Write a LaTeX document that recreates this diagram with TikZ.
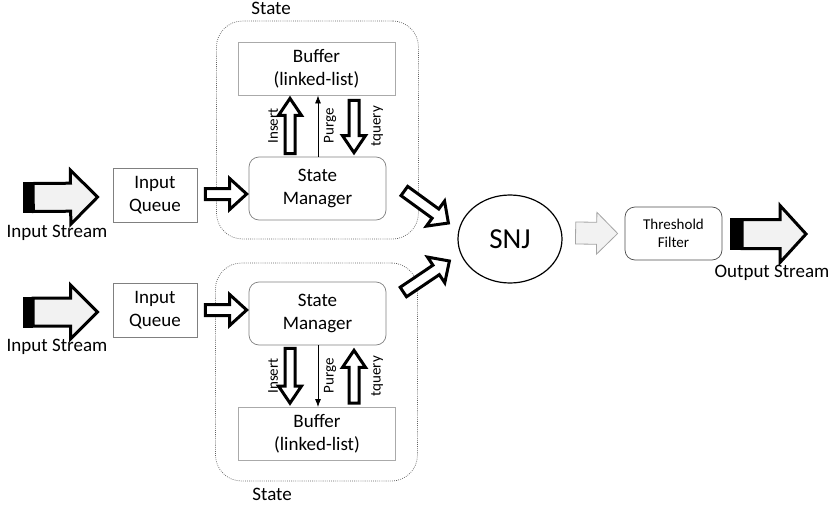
\documentclass[tikz,border=0pt]{standalone}
\usepackage{fontspec}
\setmainfont{Carlito}
\usepackage{tikz}
\usetikzlibrary{arrows.meta,calc,shapes.geometric}
\definecolor{framegray}{RGB}{128,128,128}
\definecolor{lightframe}{RGB}{170,170,170}
\definecolor{dotgray}{RGB}{95,95,95}
\definecolor{streamfill}{RGB}{242,242,242}
\definecolor{ghostline}{RGB}{165,165,165}
\newcommand{\bigtxt}{\fontsize{19}{23}\selectfont}
\newcommand{\smalltxt}{\fontsize{15}{18}\selectfont}
\newcommand{\snjtxt}{\fontsize{29}{34}\selectfont}
% block arrow: [style]{from}{to}{half shaft}{half head}{head length}
\newcommand{\blockarrow}[6][]{%
  \coordinate (ba-base) at ($(#3)!#6!(#2)$);
  \draw[#1] ($(#2)!#4!90:(#3)$) -- ($(ba-base)!#4!90:(#3)$) -- ($(ba-base)!#5!90:(#3)$) -- (#3)
    -- ($(ba-base)!#5!-90:(#3)$) -- ($(ba-base)!#4!-90:(#3)$) -- ($(#2)!#4!-90:(#3)$) -- cycle;}

\begin{document}
\begin{tikzpicture}[x=1pt, y=-1pt,
    every node/.style={font=\bigtxt, inner sep=0pt},
    qbox/.style={rectangle, draw=framegray, line width=0.8pt, minimum width=84pt,
        minimum height=54pt, align=center},
    mgr/.style={rectangle, rounded corners=10pt, draw=framegray, line width=0.7pt,
        minimum width=137pt, minimum height=63pt, align=center},
    buf/.style={rectangle, draw=lightframe, line width=0.8pt, minimum width=157pt,
        minimum height=53pt, align=center},
    state/.style={rectangle, rounded corners=26pt, draw=dotgray, line width=0.7pt,
        dash pattern=on 0.8pt off 1.3pt, minimum width=202pt, minimum height=218pt},
    snjnode/.style={ellipse, draw, line width=1.2pt, minimum width=104pt, minimum height=88pt,
        font=\snjtxt},
    filt/.style={rectangle, rounded corners=10pt, draw=black!70, line width=0.7pt,
        minimum width=97pt, minimum height=53pt, align=center, font=\smalltxt},
    vlbl/.style={rotate=90, font=\smalltxt},
    blk/.style={rectangle, fill=black, minimum width=10pt, minimum height=31pt},
    hollow/.style={draw, fill=white, line width=3pt},
    streamarr/.style={draw, fill=streamfill, line width=3pt},
    ghost/.style={draw=ghostline, fill=streamfill, line width=0.8pt},
    purge/.style={-{Latex[length=8pt,width=6pt]}, line width=0.8pt}
]
\useasboundingbox (0,0) rectangle (836,506);

\node[state] (st1) at (317.5,130) {};
\node[state] (st2) at (316.5,372) {};
\node (st1lab) at ($(st1.north west)+(55,-12)$) {State};
\node (st2lab) at ($(st2.south west)+(57,13)$) {State};

\node[buf] (buf1) at (316.5,68.5) {Buffer\\(linked-list)};
\node[mgr] (sm1) at (317.5,188.5) {State\\Manager};
\node[mgr] (sm2) at (317.5,313.5) {State\\Manager};
\node[buf] (buf2) at (317,434) {Buffer\\(linked-list)};

\node[qbox] (iq1) at (155,195) {Input\\Queue};
\node[qbox] (iq2) at (155,310) {Input\\Queue};

\node[blk] (blk1) at (28,197.5) {};
\node[blk] (blk2) at (28,312) {};
\node (in1lab) at (57,233) {Input Stream};
\node (in2lab) at (57,347) {Input Stream};

\node[snjnode] (snj) at (510,239) {SNJ};
\node[filt] (thr) at (673.5,233.5) {Threshold\\Filter};
\node[blk, minimum width=12pt, minimum height=32pt] (blk3) at (736,234) {};
\node (outlab) at (772,273) {Output Stream};

\node[vlbl] (ins1lab) at (273,126) {Insert};
\node[vlbl] (prg1lab) at (330,126) {Purge};
\node[vlbl] (tq1lab) at (377,126) {tquery};
\node[vlbl] (ins2lab) at (273,376) {Insert};
\node[vlbl] (prg2lab) at (330,376) {Purge};
\node[vlbl] (tq2lab) at (377,376) {tquery};

\coordinate (in1tip) at ($(iq1.west)+(-15,2)$);
\coordinate (in2tip) at ($(iq2.west)+(-15,2)$);
\blockarrow[streamarr]{blk1.east}{in1tip}{14pt}{27pt}{27pt}
\blockarrow[streamarr]{blk2.east}{in2tip}{14pt}{27pt}{27pt}

\coordinate (q1s) at ($(iq1.east)+(8,-1)$);
\coordinate (q1e) at ($(sm1.west)+(-2,5.5)$);
\coordinate (q2s) at ($(iq2.east)+(8,0)$);
\coordinate (q2e) at ($(sm2.west)+(-2,-3.5)$);
\blockarrow[hollow]{q1s}{q1e}{5.5pt}{15.5pt}{17pt}
\blockarrow[hollow]{q2s}{q2e}{5.5pt}{15.5pt}{17pt}

\coordinate (ins1s) at ($(sm1.north)+(-27.5,-3)$);
\coordinate (ins1e) at ($(buf1.south)+(-26.5,3)$);
\coordinate (tq1s) at ($(buf1.south)+(37.5,5)$);
\coordinate (tq1e) at ($(sm1.north)+(36.5,-4)$);
\blockarrow[hollow]{ins1s}{ins1e}{5pt}{11.5pt}{17pt}
\blockarrow[hollow]{tq1s}{tq1e}{5pt}{11.5pt}{17pt}
\coordinate (prg1s) at ($(sm1.north)+(0.5,0)$);
\draw[purge] (prg1s) -- (prg1s |- buf1.south);

\coordinate (ins2s) at ($(sm2.south)+(-27.5,3)$);
\coordinate (ins2e) at ($(buf2.north)+(-27,-4)$);
\coordinate (tq2s) at ($(buf2.north)+(37,-4)$);
\coordinate (tq2e) at ($(sm2.south)+(36.5,5)$);
\blockarrow[hollow]{ins2s}{ins2e}{5pt}{11.5pt}{17pt}
\blockarrow[hollow]{tq2s}{tq2e}{5pt}{11.5pt}{17pt}
\coordinate (prg2s) at ($(sm2.south)+(0.5,0)$);
\draw[purge] (prg2s) -- (prg2s |- buf2.north);

\coordinate (d1s) at ($(sm1.east)+(18,2.5)$);
\coordinate (d1e) at ($(snj.west)+(-9,-16)$);
\coordinate (d2s) at ($(sm2.east)+(17,-21.5)$);
\coordinate (d2e) at ($(snj.west)+(-8,22)$);
\blockarrow[hollow]{d1s}{d1e}{5.7pt}{15.5pt}{16pt}
\blockarrow[hollow]{d2s}{d2e}{5.7pt}{15.5pt}{16pt}

\coordinate (g1s) at ($(snj.east)+(13,-6)$);
\coordinate (g1e) at ($(thr.west)+(-7,0)$);
\blockarrow[ghost]{g1s}{g1e}{11pt}{21pt}{21pt}

\coordinate (outtip) at (806,234);
\blockarrow[streamarr]{blk3.east}{outtip}{14.5pt}{28.5pt}{26pt}
\end{tikzpicture}
\end{document}
